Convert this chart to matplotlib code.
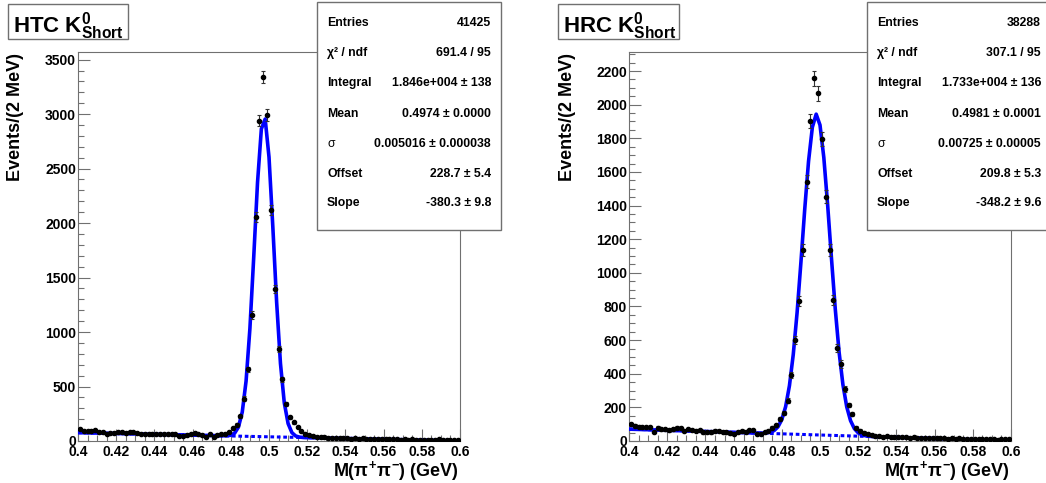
import numpy as np
import matplotlib
matplotlib.use('Agg')
import matplotlib.pyplot as plt
from matplotlib.patches import Rectangle
from matplotlib.ticker import MultipleLocator

plt.rcParams['font.family'] = ['Liberation Sans', 'DejaVu Sans']
plt.rcParams['font.weight'] = 'bold'
plt.rcParams['mathtext.fontset'] = 'custom'
plt.rcParams['mathtext.rm'] = 'Liberation Sans:bold'
plt.rcParams['mathtext.it'] = 'Liberation Sans:bold'
plt.rcParams['mathtext.bf'] = 'Liberation Sans:bold'

# ---------------- data ----------------
mass_edges = np.linspace(0.4, 0.6, 101)          # 2 MeV bins
mass_centers = 0.5 * (mass_edges[:-1] + mass_edges[1:])

htc_counts = [
    107, 95, 95, 92, 98, 80, 80, 66, 77, 72,
    83, 80, 77, 80, 86, 77, 67, 64, 64, 61,
    67, 61, 67, 61, 64, 61, 49, 49, 55, 67,
    73, 61, 55, 40, 64, 37, 58, 64, 67, 80,
    120, 150, 225, 390, 658, 1157, 2054, 2941, 3340, 2994,
    2121, 1393, 842, 566, 338, 218, 173, 130, 95, 65,
    52, 48, 40, 36, 33, 30, 28, 31, 27, 24,
    26, 22, 25, 20, 23, 19, 21, 18, 16, 20,
    15, 17, 14, 18, 13, 15, 12, 14, 10, 13,
    11, 9, 12, 10, 14, 8, 11, 7, 10, 9,
]

hrc_counts = [
    99, 89, 85, 83, 81, 81, 55, 79, 69, 69,
    63, 69, 79, 75, 59, 71, 65, 61, 65, 51,
    55, 51, 61, 59, 55, 51, 45, 41, 55, 59,
    55, 63, 65, 43, 41, 55, 59, 79, 93, 129,
    166, 240, 392, 600, 834, 1136, 1542, 1902, 2156, 2067,
    1794, 1453, 1136, 838, 551, 458, 307, 214, 162, 80,
    62, 50, 42, 36, 31, 28, 26, 27, 24, 25,
    22, 24, 21, 19, 22, 18, 20, 17, 19, 16,
    18, 15, 17, 14, 16, 13, 15, 12, 14, 11,
    13, 10, 12, 9, 14, 11, 8, 12, 9, 10,
]

# fit parameters (Gaussian + linear background), from the stat boxes
htc_fit = dict(integral=1.846e4, mean=0.4974, sigma=0.005016, offset=228.7, slope=-380.3)
hrc_fit = dict(integral=1.733e4, mean=0.4981, sigma=0.00725, offset=209.8, slope=-348.2)

htc_stats = [("Entries", "41425"), ("\u03c7\u00b2 / ndf", "691.4 / 95"),
             ("Integral", "1.846e+004 \u00b1 138"), ("Mean", "0.4974 \u00b1 0.0000"),
             ("\u03c3", "0.005016 \u00b1 0.000038"), ("Offset", "228.7 \u00b1 5.4"),
             ("Slope", "-380.3 \u00b1 9.8")]
hrc_stats = [("Entries", "38288"), ("\u03c7\u00b2 / ndf", "307.1 / 95"),
             ("Integral", "1.733e+004 \u00b1 136"), ("Mean", "0.4981 \u00b1 0.0001"),
             ("\u03c3", "0.00725 \u00b1 0.00005"), ("Offset", "209.8 \u00b1 5.3"),
             ("Slope", "-348.2 \u00b1 9.6")]

htc_title = r"HTC K$^{0}_{Short}$"
hrc_title = r"HRC K$^{0}_{Short}$"
x_title = r"M($\pi^{+}\pi^{-}$) (GeV)"
y_title = "Events/(2 MeV)"

# ---------------- figure ----------------
W, H = 1046, 483
fig = plt.figure(figsize=(W / 100, H / 100), dpi=100)
FRAME = '#707070'
BIN_W = 0.002


def fx(x):
    return x / W


def fy(y):
    return 1 - y / H


def model(m, p, with_peak=True):
    bg = p['offset'] + p['slope'] * m
    if not with_peak:
        return bg
    amp = p['integral'] * BIN_W / (np.sqrt(2 * np.pi) * p['sigma'])
    return amp * np.exp(-0.5 * ((m - p['mean']) / p['sigma']) ** 2) + bg


def panel(x0, x1, y0, y1, counts, fit, ymax, ymaj, ymin, title, tbox, sbox, stats):
    ax = fig.add_axes([fx(x0), fy(y1), (x1 - x0) / W, (y1 - y0) / H])
    counts = np.asarray(counts, float)
    ax.errorbar(mass_centers, counts, yerr=np.sqrt(counts), fmt='o', color='black',
                ms=3.0, elinewidth=0.8, ecolor='#333333', capsize=1.6, capthick=0.8,
                zorder=5)
    mgrid = np.linspace(0.4, 0.6, 101)
    ax.plot(mgrid, model(mgrid, fit, False), color='#0000ff', lw=2.2,
            ls=(0, (1.2, 0.9)), zorder=3)
    ax.plot(mgrid, model(mgrid, fit), color='#0000ff', lw=2.6, zorder=4,
            solid_joinstyle='round')
    ax.set_xlim(0.4, 0.6)
    ax.set_ylim(0, ymax)
    ax.xaxis.set_major_locator(MultipleLocator(0.02))
    ax.xaxis.set_minor_locator(MultipleLocator(0.005))
    ax.yaxis.set_major_locator(MultipleLocator(ymaj))
    ax.yaxis.set_minor_locator(MultipleLocator(ymin))
    ax.xaxis.set_major_formatter(plt.FuncFormatter(
        lambda v, p: ('%.2f' % v).rstrip('0').rstrip('.') if v else '0'))
    ax.yaxis.set_major_formatter(plt.FuncFormatter(lambda v, p: '%d' % round(v)))
    ax.tick_params(which='both', direction='in', top=False, right=False,
                   color=FRAME, width=0.8)
    ax.tick_params(which='major', length=8.5)
    ax.tick_params(which='minor', length=4.3)
    ax.tick_params(axis='x', labelsize=10, pad=3)
    ax.tick_params(axis='y', labelsize=10, pad=1.5)
    for s in ax.spines.values():
        s.set_color(FRAME)
        s.set_linewidth(0.8)

    # axis titles
    fig.text(fx(x1 - 1), fy(476), x_title, ha='right', va='baseline', fontsize=13,
             fontweight='bold')
    fig.text(fx(x0 - 62), fy(y0 + 1), y_title, ha='center', va='top', rotation=90,
             fontsize=13, fontweight='bold')

    # title box
    bx0, by0, bx1, by1 = tbox
    fig.patches.append(Rectangle((fx(bx0), fy(by1)), (bx1 - bx0) / W, (by1 - by0) / H,
                                 transform=fig.transFigure, facecolor='white',
                                 edgecolor=FRAME, lw=1.0, zorder=10))
    fig.text(fx(bx0 + 5), fy(32), title, ha='left', va='baseline', fontsize=16,
             fontweight='bold', zorder=11)

    # stats box
    sx0, sy0, sx1, sy1 = sbox
    fig.patches.append(Rectangle((fx(sx0), fy(sy1)), (sx1 - sx0) / W, (sy1 - sy0) / H,
                                 transform=fig.transFigure, facecolor='white',
                                 edgecolor=FRAME, lw=1.0, zorder=10))
    row_y = [23, 53, 83, 114, 144, 174, 203]
    for (lab, val), ry in zip(stats, row_y):
        fw = 'normal' if lab == "\u03c3" else 'bold'
        fig.text(fx(sx0 + 10), fy(ry), lab, ha='left', va='center', fontsize=8.8,
                 fontweight=fw, zorder=11)
        fig.text(fx(sx0 + 174), fy(ry), val, ha='right', va='center', fontsize=8.8,
                 fontweight='bold', zorder=11)
    return ax


panel(78, 460, 52, 441, htc_counts, htc_fit, 3570, 500, 100,
      htc_title, (8, 4, 128, 39), (317, 2, 501, 230), htc_stats)
panel(629, 1011, 52, 441, hrc_counts, hrc_fit, 2313, 200, 50,
      hrc_title, (558, 4, 679, 39), (867, 2, 1051, 230), hrc_stats)

fig.savefig('out.png', dpi=100, facecolor='white')
